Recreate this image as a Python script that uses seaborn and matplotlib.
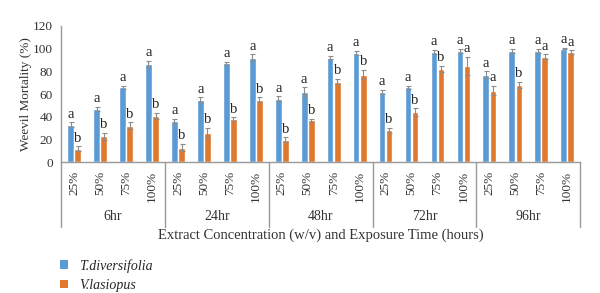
import numpy as np
import pandas as pd
import matplotlib.pyplot as plt
import matplotlib.transforms as mtransforms
from matplotlib.patches import Patch
import seaborn as sns

sns.set_theme(style="white")
plt.rcParams['font.family'] = ['Liberation Serif', 'DejaVu Serif']

# data
hours = ['6hr', '24hr', '48hr', '72hr', '96hr']
concs = ['25%', '50%', '75%', '100%']
species = ['T.diversifolia', 'V.lasiopus']

tdiv = [33, 47, 66, 86,
        36, 55, 87, 92,
        56, 62, 92, 96,
        62, 66, 97, 98,
        77, 98, 98, 100]
vlas = [12, 23, 32, 41,
        13, 26, 38, 55,
        20, 37, 71, 77,
        28, 44, 82, 85,
        63, 68, 93, 97]
tdiv_err = [2, 2, 1.5, 3,
            2, 2, 1.5, 3,
            2, 4, 1.5, 2,
            2, 1.5, 2, 1.5,
            3, 2, 2, 0.5]
vlas_err = [2, 3, 3, 2.5,
            3, 4, 1.5, 2,
            2, 1.5, 2.5, 4,
            2.5, 3.5, 2.5, 8,
            4, 3, 2, 1.5]
tdiv_letters = ['a'] * 20
vlas_letters = ['b', 'b', 'b', 'b',
                'b', 'b', 'b', 'b',
                'b', 'b', 'b', 'b',
                'b', 'b', 'b', 'a',
                'a', 'b', 'a', 'a']

cells = [f"{h}|{c}" for h in hours for c in concs]
df = pd.DataFrame({
    'cell': cells * 2,
    'species': [species[0]] * 20 + [species[1]] * 20,
    'mortality': tdiv + vlas,
})

colors = ['#5B9BD5', '#E0782E']

fig = plt.figure(figsize=(6, 2.93), dpi=100)
ax = fig.add_axes([0.102, 0.446, 0.865, 0.466])

sns.barplot(data=df, x='cell', y='mortality', hue='species', order=cells,
            hue_order=species, palette=colors, errorbar=None, width=0.55,
            gap=0.06, ax=ax, legend=False, saturation=1)

# error bars and letters at the bar positions that seaborn laid out
for cont, vals, errs, letters in zip(ax.containers, [tdiv, vlas],
                                     [tdiv_err, vlas_err],
                                     [tdiv_letters, vlas_letters]):
    xs = [p.get_x() + p.get_width() / 2 for p in cont.patches]
    ax.errorbar(xs, vals, yerr=errs, fmt='none', ecolor='#8c8c8c',
                elinewidth=0.8, capsize=1.8, capthick=0.8)
    for x, v, e, l in zip(xs, vals, errs, letters):
        ax.text(x, v + e + 1.5, l, ha='center', va='bottom', fontsize=10.5,
                color='#222222')

ax.set_ylim(0, 120)
ax.set_yticks(range(0, 121, 20))
ax.set_xlim(-0.5, len(cells) - 0.5)
ax.tick_params(axis='y', labelsize=9.5, length=0, pad=6, colors='#333333')
ax.set_ylabel('Weevil Mortality (%)', fontsize=9.5, color='#333333')
ax.yaxis.set_label_coords(-0.056, 0.5)
ax.set_xlabel('')

ax.set_xticks(range(len(cells)))
ax.set_xticklabels(concs * len(hours), rotation=90, fontsize=9.5,
                   color='#333333', va='top')
ax.tick_params(axis='x', length=0, pad=6)

for side in ['top', 'right']:
    ax.spines[side].set_visible(False)
for side in ['left', 'bottom']:
    ax.spines[side].set_color('#999999')
    ax.spines[side].set_linewidth(1)

# grouped category axis: separators and hour labels
trans = mtransforms.blended_transform_factory(ax.transData, ax.transAxes)
for i in range(len(hours) + 1):
    xb = i * len(concs) - 0.5
    ax.plot([xb, xb], [0, -0.475], transform=trans, color='#999999',
            lw=1, clip_on=False)
for i, h in enumerate(hours):
    xc = i * len(concs) + (len(concs) - 1) / 2
    ax.text(xc, -0.395, h, transform=trans, ha='center', va='center',
            fontsize=10, color='#333333')
ax.text(0.5, -0.535, 'Extract Concentration (w/v) and Exposure Time (hours)',
        transform=ax.transAxes, ha='center', va='center', fontsize=10.5,
        color='#333333')

handles = [Patch(facecolor=c, edgecolor='none') for c in colors]
fig.legend(handles, species, loc='upper left', bbox_to_anchor=(0.088, 0.14),
           frameon=False, prop={'style': 'italic', 'size': 10},
           handlelength=0.6, handleheight=0.6, labelspacing=0.45,
           handletextpad=0.8, borderpad=0)

fig.savefig('out.png', dpi=100)
